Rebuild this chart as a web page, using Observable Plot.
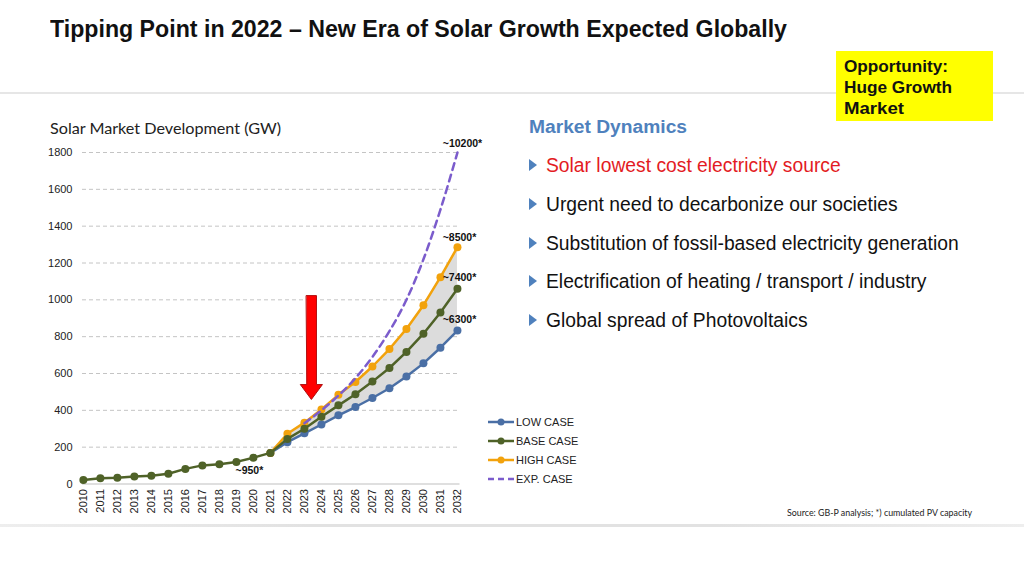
<!DOCTYPE html>
<html><head><meta charset="utf-8">
<script src="https://cdn.jsdelivr.net/npm/d3@7"></script>
<script src="https://cdn.jsdelivr.net/npm/@observablehq/plot@0.6"></script>
<style>
body{margin:0;background:#fff;font-family:"Liberation Sans",Arial,sans-serif;}
#page{position:relative;width:1024px;height:576px;overflow:hidden;background:#fff;}
.abs{position:absolute;white-space:nowrap;}
#title{left:50px;top:14px;font-size:24px;font-weight:bold;color:#111;line-height:30px;transform-origin:left center;}
#sep1{left:0;top:92px;width:1024px;height:2px;background:#e6e6e6;}
#sep2{left:0;top:524px;width:1024px;height:3px;background:linear-gradient(to right,#eee,#e2e2e2 30%,#e2e2e2 70%,#eee);}
#opp{left:836px;top:51px;width:157px;height:70px;background:#ffff00;box-sizing:border-box;padding:5px 0 0 8px;white-space:normal;}
#opp div{font-weight:bold;font-size:17px;line-height:21px;color:#111;transform-origin:left center;white-space:nowrap;}
#ctitle{left:50px;top:118px;font-family:Lato,"Open Sans",sans-serif;font-size:15px;color:#222;line-height:20px;transform-origin:left center;}
#md{left:529px;top:116px;font-size:18px;font-weight:bold;color:#4f81bd;line-height:22px;transform-origin:left center;}
.bul{left:529px;font-size:19.3px;color:#111;line-height:22px;}
.bul .tri{display:inline-block;width:0;height:0;border-top:6px solid transparent;border-bottom:6px solid transparent;border-left:8px solid #4f81bd;margin-right:9px;vertical-align:1px;}
#src{left:787px;top:506px;font-family:Lato,"Open Sans",sans-serif;font-size:9px;color:#222;line-height:14px;transform-origin:left center;}
#chart{left:0;top:135px;}
#legend{left:488px;top:412px;font-size:11px;color:#222;}
.lg{height:19px;display:flex;align-items:center;}
.lg svg{margin-right:2px;}
</style></head><body><div id="page">
<div class="abs" id="title">Tipping Point in 2022 – New Era of Solar Growth Expected Globally</div>
<div class="abs" id="sep1"></div>
<div class="abs" id="opp"><div id="o1">Opportunity:</div><div id="o2">Huge Growth</div><div id="o3">Market</div></div>
<div class="abs" id="ctitle">Solar Market Development (GW)</div>
<div class="abs" id="md">Market Dynamics</div>
<div class="abs" id="chart"></div>
<div class="abs" id="legend"></div>
<div class="abs" id="src">Source: GB-P analysis; *) cumulated PV capacity</div>
<div class="abs" id="sep2"></div>
</div>
<script>
// ---- data ----
const histYears = [2010,2011,2012,2013,2014,2015,2016,2017,2018,2019,2020,2021];
const histValues = [22,31,34,41,45,56,82,101,107,120,143,169];
const futYears = [2021,2022,2023,2024,2025,2026,2027,2028,2029,2030,2031,2032];
const lowCase  = [169,227,275,323,373,418,467,520,584,655,740,833];
const baseCase = [169,245,300,365,427,487,556,630,717,816,931,1060];
const highCase = [169,273,333,405,484,554,638,733,842,971,1123,1286];
const expYears = [2023,2024,2025,2026,2027,2028,2029,2030,2031,2032];
const expCase  = [330,400,480,575,690,830,1000,1220,1490,1800];
const xTicks = [2010,2011,2012,2013,2014,2015,2016,2017,2018,2019,2020,2021,2022,2023,2024,2025,2026,2027,2028,2029,2030,2031,2032];
const yTicks = [0,200,400,600,800,1000,1200,1400,1600,1800];
const seriesNames = ["LOW CASE","BASE CASE","HIGH CASE","EXP. CASE"];
const seriesColors = ["#4a6fa5","#4f6228","#f2a20c","#7b5ccc"];
const annoText = ["~10200*","~8500*","~7400*","~6300*","~950*"];
const annoYear = [2032,2032,2032,2032,2020];
const annoValue = [1800,1286,1060,833,143];
const annoDy = [-9,-10,-11,-11,13];
const annoDx = [5,2,2,2,-4];
// red arrow outline (year, GW)
const arrowYear = [2023.12,2023.71,2023.71,2024.06,2023.41,2022.76,2023.12];
const arrowValue = [1023,1023,540,540,459,540,540];
const bullets = ["Solar lowest cost electricity source","Urgent need to decarbonize our societies","Substitution of fossil-based electricity generation","Electrification of heating / transport / industry","Global spread of Photovoltaics"];
const bulletColors = ["#e31b23","#111","#111","#111","#111"];

// ---- tables ----
const hist = histYears.map((y,i)=>({year:y, value:histValues[i]}));
const fut = futYears.map((y,i)=>({year:y, low:lowCase[i], base:baseCase[i], high:highCase[i]}));
const lowRows = fut.map(d=>({year:d.year, value:d.low}));
const baseRows = hist.concat(fut.slice(1).map(d=>({year:d.year, value:d.base})));
const highRows = fut.map(d=>({year:d.year, value:d.high}));
const expRows = expYears.map((y,i)=>({year:y, value:expCase[i]}));
const annos = annoText.map((t,i)=>({text:t, year:annoYear[i], value:annoValue[i], dy:annoDy[i], dx:annoDx[i]}));
const arrow = arrowYear.map((y,i)=>({year:y, value:arrowValue[i]}));

const [cLow,cBase,cHigh,cExp] = seriesColors;
const annoMarks = annos.map(a=>Plot.text([a], {x:"year", y:"value", text:"text", dx:a.dx, dy:a.dy, fontWeight:"bold", fontSize:10.5, fill:"#111"}));
const chart = Plot.plot({
  width: 500, height: 400,
  marginLeft: 82, marginRight: 40.5, marginTop: 17, marginBottom: 51.5,
  x: {domain:[2009.95, 2032.15], axis:null},
  y: {domain:[0,1800], axis:null},
  style: {fontFamily:"Liberation Sans, Arial, sans-serif", background:"transparent", overflow:"visible"},
  marks: [
    Plot.gridY(yTicks.filter(d=>d>0), {stroke:"#c4c4c4", strokeOpacity:1, strokeDasharray:"4,3"}),
    Plot.ruleY([0], {stroke:"#d4d4d4", strokeWidth:1.5}),
    Plot.axisY({ticks:yTicks, tickFormat:d=>String(d), tickSize:0, tickPadding:10, label:null, fontSize:11, fill:"#222"}),
    Plot.axisX({ticks:xTicks, tickFormat:d=>String(d), tickRotate:-90, tickSize:0, tickPadding:5, label:null, fontSize:11, fill:"#222"}),
    Plot.areaY(fut, {x:"year", y1:"low", y2:"high", fill:"#dcdcdc"}),
    Plot.line(lowRows, {x:"year", y:"value", stroke:cLow, strokeWidth:2.5}),
    Plot.dot(lowRows, {x:"year", y:"value", fill:cLow, r:4}),
    Plot.line(highRows, {x:"year", y:"value", stroke:cHigh, strokeWidth:2.5}),
    Plot.dot(highRows, {x:"year", y:"value", fill:cHigh, r:4}),
    Plot.line(baseRows, {x:"year", y:"value", stroke:cBase, strokeWidth:2.5}),
    Plot.dot(baseRows, {x:"year", y:"value", fill:cBase, r:4}),
    Plot.line(expRows, {x:"year", y:"value", stroke:cExp, strokeWidth:2.5, strokeDasharray:"7,5", curve:"monotone-x"}),
    Plot.line(arrow, {x:"year", y:"value", fill:"#ff0000", stroke:"#b01010", strokeWidth:1, curve:"linear-closed"}),
    ...annoMarks
  ]
});
document.getElementById("chart").appendChild(chart);

// bullets
bullets.forEach((t,i)=>{
  const d = document.createElement("div");
  d.className = "abs bul";
  d.style.top = (155 + i*38.8) + "px";
  d.innerHTML = '<span class="tri"></span>';
  const s = document.createElement("span");
  s.textContent = t; s.style.color = bulletColors[i];
  d.appendChild(s);
  document.getElementById("page").appendChild(d);
});

// legend
const lg = document.getElementById("legend");
seriesNames.forEach((n,i)=>{
  const row = document.createElement("div");
  row.className = "lg";
  const dash = i===3;
  row.innerHTML = `<svg width="26" height="10"><line x1="0" x2="26" y1="5" y2="5" stroke="${seriesColors[i]}" stroke-width="2.5" ${dash?'stroke-dasharray="6,4"':''}/>${dash?'':`<circle cx="13" cy="5" r="3.5" fill="${seriesColors[i]}"/>`}</svg>`;
  const s = document.createElement("span"); s.textContent = n; row.appendChild(s);
  lg.appendChild(row);
});

// fit text widths to the reference
function fit(id, w){ const el=document.getElementById(id); const r=el.getBoundingClientRect().width; el.style.transform=`scaleX(${w/r})`; }
function fitInline(id, w){ const el=document.getElementById(id); el.style.display="inline-block"; const r=el.getBoundingClientRect().width; el.style.transform=`scaleX(${w/r})`; el.style.display="block"; }
fit("title", 737);
fit("ctitle", 231);
fit("md", 158);
fit("src", 185);
fitInline("o1", 104);
fitInline("o2", 108);
fitInline("o3", 60);
</script>
</body></html>
